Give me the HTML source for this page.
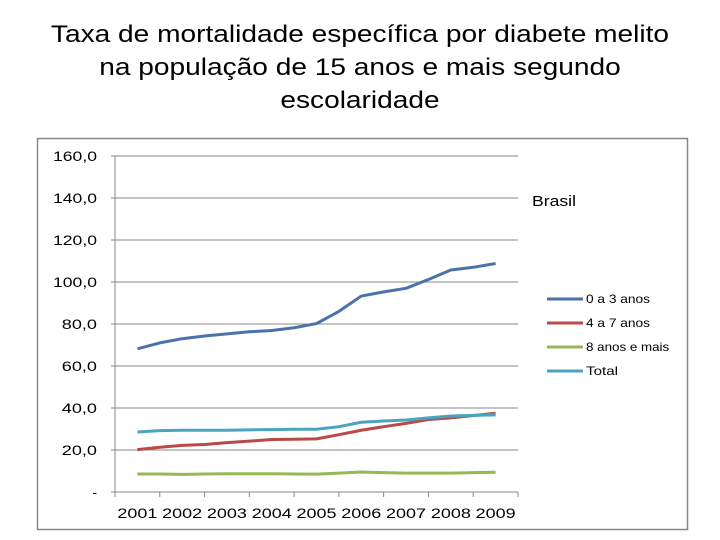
<!DOCTYPE html>
<html><head><meta charset="utf-8"><style>
body{margin:0;width:720px;height:540px;background:#fff;overflow:hidden;font-family:"Liberation Sans",sans-serif}
#title{position:absolute;left:0;top:18px;width:720px;text-align:center;font-size:24px;line-height:33px;color:#000;transform:scaleX(1.17);transform-origin:360px 0}
svg{position:absolute;left:0;top:0}
</style></head><body>
<div id="title">Taxa de mortalidade específica por diabete melito<br>na população de 15 anos e mais segundo<br>escolaridade</div>
<svg id="c" width="720" height="540"></svg>
<script>
const years=["2001","2002","2003","2004","2005","2006","2007","2008","2009"];
const yTicks=[0,20,40,60,80,100,120,140,160];
const yTickLabels=["-","20,0","40,0","60,0","80,0","100,0","120,0","140,0","160,0"];
const s0a3=[68.2,71,73,74.3,75.3,76.3,76.9,78.2,80.2,86,93.3,95.3,97,101.2,105.7,107,108.8];
const s4a7=[20.2,21.3,22.2,22.6,23.5,24.2,25,25.1,25.3,27.3,29.4,31.1,32.7,34.5,35.3,36.4,37.5];
const s8=[8.6,8.6,8.4,8.6,8.7,8.7,8.7,8.6,8.5,9,9.5,9.2,9,9,9,9.2,9.4];
const sTotal=[28.6,29.2,29.4,29.4,29.4,29.6,29.7,29.9,29.9,31.1,33.2,33.8,34.3,35.3,36.2,36.5,36.7];
const seriesNames=["0 a 3 anos","4 a 7 anos","8 anos e mais","Total"];
const seriesData=[s0a3,s4a7,s8,sTotal];
const colors=["#4a72ac","#b84a47","#96b857","#4aa4bf"];
const NS="http://www.w3.org/2000/svg",svg=document.getElementById('c');
const x0=115,x1=518,yTop=156,yBot=492;
const bw=(x1-x0)/years.length;
const y=v=>yBot-(v/160)*(yBot-yTop);
const xi=i=>x0+bw/2+i*bw/2;
function el(t,a){const e=document.createElementNS(NS,t);for(const k in a)e.setAttribute(k,a[k]);svg.appendChild(e);return e;}
const frame=el('rect',{x:37.5,y:138.5,width:650,height:391,fill:'none',stroke:'#888','stroke-width':1.5});


yTicks.forEach((v,i)=>{
  const g=el('line',{x1:x0-4,x2:x1,y1:y(v),y2:y(v),stroke:'#888','stroke-width':1});
  
  
  const lab=yTickLabels[i];
  const a={x:97,y:y(v)+5,'text-anchor':'end','font-size':14,fill:'#000'};
  if(lab.length>1){a.textLength=lab.length*8.8;a.lengthAdjust='spacingAndGlyphs';}
  const t=el('text',a);
  t.textContent=lab;
  
  
});
const ax=el('line',{x1:x0,x2:x0,y1:yTop,y2:yBot,stroke:'#888'});


for(let i=0;i<=years.length;i++){
  const tk=el('line',{x1:x0+i*bw,x2:x0+i*bw,y1:yBot,y2:yBot+5,stroke:'#888'});
  
  
}
years.forEach((yr,i)=>{
  const t=el('text',{x:x0+bw/2+i*bw,y:518,'text-anchor':'middle','font-size':14,fill:'#000',textLength:40,lengthAdjust:'spacingAndGlyphs'});
  t.textContent=yr;
  
  
});
seriesData.forEach((d,k)=>{
  const p=el('polyline',{points:d.map((v,i)=>xi(i)+','+y(v)).join(' '),fill:'none',stroke:colors[k],'stroke-width':3,'stroke-linejoin':'round'});
  
  
  const ly=299+k*24;
  const l=el('line',{x1:547,x2:583,y1:ly,y2:ly,stroke:colors[k],'stroke-width':3});
  
  
  const t=el('text',{x:586,y:ly+4,'font-size':12,fill:'#000',textLength:seriesNames[k].length*6.4,lengthAdjust:'spacingAndGlyphs'});
  t.textContent=seriesNames[k];
  
  
});
const b=el('text',{x:532,y:206,'font-size':15,fill:'#000',textLength:44,lengthAdjust:'spacingAndGlyphs'});
b.textContent='Brasil';


</script>
</body></html>
